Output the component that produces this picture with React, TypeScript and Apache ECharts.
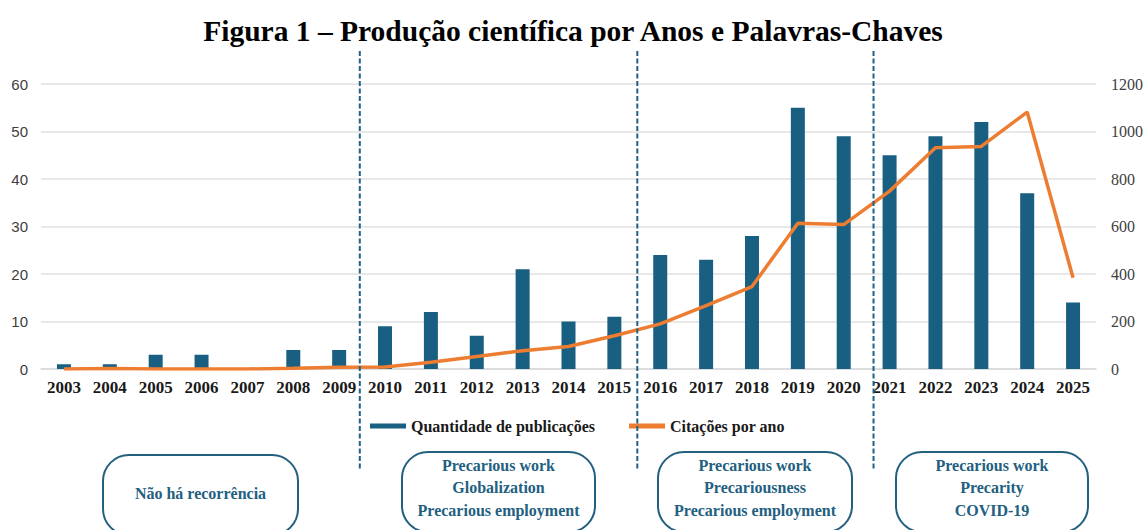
import React, { useEffect, useRef } from "react";
import * as echarts from "echarts";

const years = ["2003","2004","2005","2006","2007","2008","2009","2010","2011","2012","2013","2014","2015","2016","2017","2018","2019","2020","2021","2022","2023","2024","2025"];
const publications = [1,1,3,3,0,4,4,9,12,7,21,10,11,24,23,28,55,49,45,49,52,37,14];
const citations = [0,2,0,0,0,3,7,8,28,53,77,95,140,190,267,347,614,608,749,932,937,1082,384];
const leftTicks = { min: 0, max: 60, interval: 10 };
const rightTicks = { min: 0, max: 1200, interval: 200 };
const titleText = "Figura 1 – Produção científica por Anos e Palavras-Chaves";
const seriesNames = ["Quantidade de publicações", "Citações por ano"];
// separators expressed as fractional category positions
const separatorPositions = [6.45, 12.5, 17.65];
const periodBoxes = [
  { lines: ["Não há recorrência"], x: 103, w: 195, top: 455 },
  { lines: ["Precarious work", "Globalization", "Precarious employment"], x: 402, w: 193, top: 452 },
  { lines: ["Precarious work", "Precariousness", "Precarious employment"], x: 658, w: 194, top: 452 },
  { lines: ["Precarious work", "Precarity", "COVID-19"], x: 896, w: 192, top: 452 },
];

const BLUE = "#195f81";
const ORANGE = "#ed7d31";
const BOXBLUE = "#23607f";
const SERIF = "'Liberation Serif', 'Times New Roman', serif";

export default function App() {
  const ref = useRef<HTMLDivElement>(null);
  useEffect(() => {
    if (!ref.current) return;
    const chart = echarts.init(ref.current, undefined, { renderer: "svg" });
    chart.setOption({
      animation: false,
      backgroundColor: "#ffffff",
      title: {
        text: titleText,
        left: "center",
        top: 11,
        textStyle: { fontFamily: SERIF, fontWeight: "bold", fontSize: 29.5, color: "#000" },
      },
      legend: {
        left: 365,
        top: 413,
        itemWidth: 36,
        itemHeight: 5,
        itemGap: 34,
        textStyle: { fontFamily: SERIF, fontWeight: "bold", fontSize: 16, color: "#1a1a1a" },
        data: [
          { name: seriesNames[0], icon: "rect" },
          { name: seriesNames[1], icon: "rect" },
        ],
      },
      grid: { left: 41, right: 49, top: 84, bottom: 161, containLabel: false },
      xAxis: {
        type: "category",
        data: years,
        axisTick: { show: false },
        axisLine: { lineStyle: { color: "#d9d9d9", width: 1.5 } },
        axisLabel: { fontFamily: SERIF, fontWeight: "bold", fontSize: 17, color: "#1a1a1a", margin: 10, interval: 0 },
      },
      yAxis: [
        {
          type: "value",
          ...leftTicks,
          axisLine: { show: false },
          axisTick: { show: false },
          splitLine: { lineStyle: { color: "#e0e0e0", width: 1.5 } },
          axisLabel: { fontFamily: "'Liberation Sans', Arial, sans-serif", fontSize: 15, color: "#404040", margin: 13 },
        },
        {
          type: "value",
          ...rightTicks,
          axisLine: { show: false },
          axisTick: { show: false },
          splitLine: { show: false },
          axisLabel: {
            fontFamily: SERIF,
            fontSize: 16,
            color: "#404040",
            margin: 15,
            formatter: (v: number) => String(v),
          },
        },
      ],
      series: [
        {
          name: seriesNames[0],
          type: "bar",
          data: publications,
          barWidth: 14,
          itemStyle: { color: BLUE },
        },
        {
          name: seriesNames[1],
          type: "line",
          yAxisIndex: 1,
          data: citations,
          symbol: "none",
          lineStyle: { color: ORANGE, width: 3.5 },
          itemStyle: { color: ORANGE },
          z: 3,
        },
      ],
    });

    const px = (i: number) => chart.convertToPixel({ xAxisIndex: 0 }, years[i]) as number;
    const graphics: any[] = [];
    separatorPositions.forEach((pos) => {
      const a = Math.floor(pos);
      const f = pos - a;
      const x = px(a) + f * (px(a + 1) - px(a));
      graphics.push({
        type: "line",
        shape: { x1: x, y1: 51, x2: x, y2: 470 },
        style: { stroke: "#1f6285", lineWidth: 2, lineDash: [5, 2.5] },
        z: 10,
      });
    });
    periodBoxes.forEach((b) => {
      graphics.push({
        type: "rect",
        shape: { x: b.x, y: b.top, width: b.w, height: 80, r: 26 },
        style: { fill: "none", stroke: BOXBLUE, lineWidth: 2 },
      });
      const cx = b.x + b.w / 2;
      if (b.lines.length === 1) {
        graphics.push({
          type: "text",
          x: cx,
          y: 493,
          style: { text: b.lines[0], fill: BOXBLUE, font: `bold 16px ${SERIF}`, textAlign: "center", textVerticalAlign: "middle" },
        });
      } else {
        b.lines.forEach((t, k) => {
          graphics.push({
            type: "text",
            x: cx,
            y: 465 + k * 22.5,
            style: { text: t, fill: BOXBLUE, font: `bold 16px ${SERIF}`, textAlign: "center", textVerticalAlign: "middle" },
          });
        });
      }
    });
    chart.setOption({ graphic: graphics });

    return () => chart.dispose();
  }, []);
  return (
    <div
      ref={ref}
      style={{ position: "fixed", left: 0, top: 0, width: 1146, height: 530, background: "#fff" }}
    />
  );
}
